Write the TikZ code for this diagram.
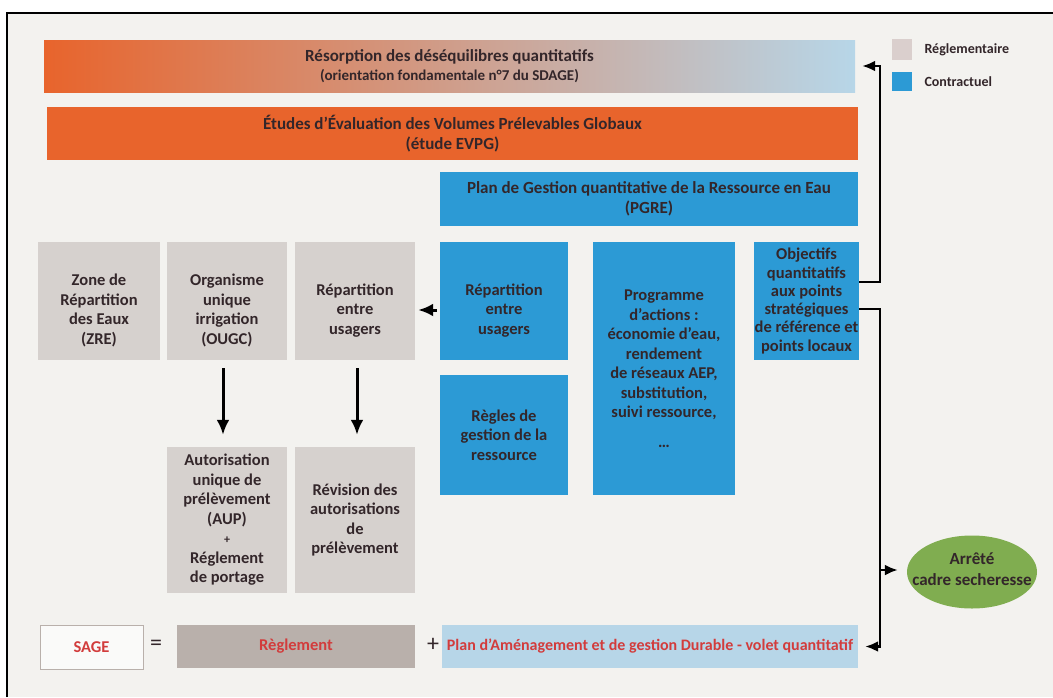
\documentclass[tikz,border=0pt]{standalone}
\usepackage{fontspec}
\setmainfont{Carlito}
\usetikzlibrary{arrows.meta,shapes.geometric}

\definecolor{fond}{HTML}{F3F2EF}
\definecolor{orangeS}{HTML}{E8642C}
\definecolor{tan}{HTML}{D8B593}
\definecolor{bleu}{HTML}{2C9AD5}
\definecolor{bleuclair}{HTML}{B7D6E8}
\definecolor{gris}{HTML}{D6D1CE}
\definecolor{grisfonce}{HTML}{B9B0AB}
\definecolor{rouge}{HTML}{D23C3C}
\definecolor{vert}{HTML}{80AD50}
\definecolor{texte}{HTML}{33262A}

% texte des cases du haut un peu plus bas
\newcommand{\descente}{\rule{0pt}{30pt}}

\begin{document}
\begin{tikzpicture}[x=1pt, y=-1pt,
  font=\fontsize{16.5}{19.5}\selectfont\bfseries, text=texte,
  boite/.style 2 args={minimum width=#1, minimum height=#2, inner sep=0.5pt, align=center},
  barre/.style={fill=orangeS, font=\fontsize{17}{19.5}\selectfont\bfseries},
  grisbox/.style={fill=gris},
  bleubox/.style={fill=bleu},
  petit/.style={font=\fontsize{14}{16}\selectfont\bfseries},
  signe/.style={font=\fontsize{24}{24}\selectfont\mdseries},
  fleche/.style={-{Latex[length=15pt,width=13pt]}, line width=3pt},
  lien/.style={-{Latex[length=13pt,width=11pt]}, line width=2.4pt}]
  % --- fond et cadre ---
  \useasboundingbox (0,0) rectangle (1053,697);
  \fill[white] (0,0) rectangle (1053,697);
  \fill[fond] (7,13) rectangle (1053,697);
  \draw[line width=1.6pt] (7,697) -- (7,13) -- (1053,13);

  % --- bandeaux du haut ---
  \node[boite={811}{52}, barre, left color=orangeS, middle color=tan, right color=bleuclair] (res) at (449.5,66)
    {R\'esorption des d\'es\'equilibres quantitatifs\\[-1pt]{\fontsize{15}{17}\selectfont (orientation fondamentale n\textdegree7 du SDAGE)}};
  \node[boite={811}{53}, barre] (evpg) at (452.5,133.5)
    {\'Etudes d’\'Evaluation des Volumes Pr\'elevables Globaux\\(\'etude EVPG)};
  \node[boite={418}{54}, bleubox, font=\fontsize{17}{19.5}\selectfont\bfseries] (pgre) at (649,199)
    {Plan de Gestion quantitative de la Ressource en Eau\\(PGRE)};

  % --- legende ---
  \node[fill=gris!90!pink, minimum width=20, minimum height=21, inner sep=0pt] (lgris) at (902,49.5) {};
  \node[fill=bleu, minimum width=20, minimum height=19, inner sep=0pt] (lbleu) at (902,81.5) {};
  \node[petit, anchor=west] (tgris) at (921,50) {R\'eglementaire};
  \node[petit, anchor=west] (tbleu) at (921,82) {Contractuel};

  % --- volet reglementaire ---
  \node[boite={122}{118}, grisbox] (zre) at (99,301) {\descente Zone de\\R\'epartition\\des Eaux\\(ZRE)};
  \node[boite={120}{118}, grisbox] (ougc) at (227,301) {\descente Organisme\\unique\\irrigation\\(OUGC)};
  \node[boite={120}{118}, grisbox] (repg) at (355,301) {\descente R\'epartition\\entre\\usagers};
  \node[boite={120}{146}, grisbox] (aup) at (227,520)
    {Autorisation\\unique de\\pr\'el\`evement\\(AUP)\\{\fontsize{12}{14}\selectfont +}\\R\'eglement\\de portage};
  \node[boite={120}{146}, grisbox] (rev) at (355,520) {R\'evision des\\autorisations\\de\\pr\'el\`evement};

  % --- volet contractuel ---
  \node[boite={128}{118}, bleubox] (repb) at (504,301) {\descente R\'epartition\\entre\\usagers};
  \node[boite={128}{120}, bleubox] (regles) at (504,435) {R\`egles de\\gestion de la\\ressource};
  \node[boite={142}{253}, bleubox] (prog) at (664,368.5)
    {Programme\\d’actions :\\\'economie d’eau,\\rendement\\de r\'eseaux AEP,\\substitution,\\suivi ressource,\\[10pt]…};
  \node[boite={103}{118}, bleubox, font=\fontsize{16.5}{18.3}\selectfont\bfseries] (obj) at (806.5,301)
    {Objectifs\\quantitatifs\\aux points\\strat\'egiques\\de r\'ef\'erence et\\points locaux};
  \node[ellipse, fill=vert, minimum width=130, minimum height=73, inner sep=0pt] (arrete) at (972,572) {};
  \node[align=center, font=\fontsize{17}{21}\selectfont\bfseries] (tarrete) at ([yshift=3pt]arrete.center)
    {Arr\^et\'e\\cadre secheresse};

  % --- ligne du bas ---
  \node[boite={103}{44}, fill=white!60!fond, draw=grisfonce, line width=0.6pt, text=rouge] (sage) at (91.5,647) {SAGE};
  \node[signe] (egal) at (156,645) {=};
  \node[boite={238}{43}, fill=grisfonce, text=rouge] (reglt) at (296,646.5) {R\`eglement};
  \node[signe] (plus) at (433,645) {+};
  \node[boite={416}{43}, fill=bleuclair, text=rouge, font=\fontsize{16}{19}\selectfont\bfseries] (pad) at (650,646.5)
    {Plan d’Am\'enagement et de gestion Durable - volet quantitatif};

  % --- fleches ---
  \draw[fleche, shorten <=3pt, shorten >=3pt] ([yshift=-9pt]repb.west) -- ([yshift=-9pt]repg.east);
  \draw[fleche, shorten <=8pt, shorten >=12pt] ([xshift=-4pt]ougc.south) -- ([xshift=-4pt]aup.north);
  \draw[fleche, shorten <=8pt, shorten >=12pt] ([xshift=2pt]repg.south) -- ([xshift=2pt]rev.north);

  \coordinate (coudeA) at (880,282);
  \coordinate (coudeB) at (880,309);
  \coordinate (embr) at (880,570);
  \draw[lien] (obj.east |- coudeA) -- (coudeA) |- ([xshift=7pt]res.east);
  \draw[lien] (obj.east |- coudeB) -- (coudeB) |- ([xshift=7pt]pad.east);
  \draw[lien, shorten >=9pt] (embr) -- (arrete.west |- embr);
\end{tikzpicture}
\end{document}
